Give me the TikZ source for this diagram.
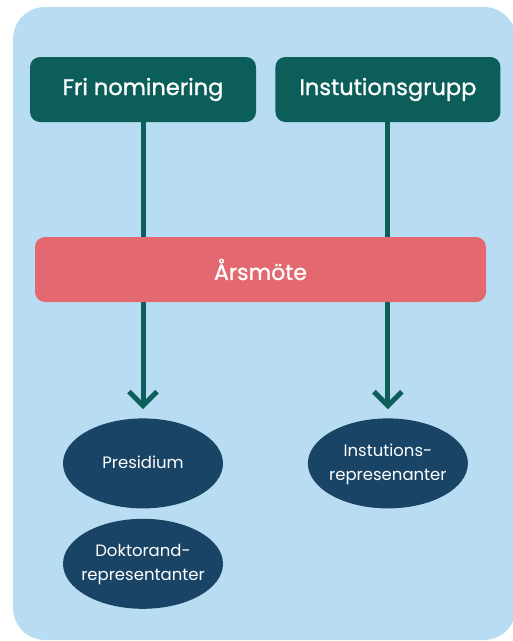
\documentclass[tikz,border=0pt]{standalone}
\usepackage{fontspec}
\setmainfont{Poppins}
\newfontfamily\boxfont{Poppins}[FakeBold=1.2]
\usetikzlibrary{shapes.geometric}
\usetikzlibrary{arrows.meta}
\usetikzlibrary{positioning}
\definecolor{bgblue}{HTML}{B8DDF2}
\definecolor{darkteal}{HTML}{0B5E59}
\definecolor{meetred}{HTML}{E4686F}
\definecolor{navy}{HTML}{1A4465}
\pgfdeclarelayer{bg}
\pgfdeclarelayer{lines}
\pgfsetlayers{bg,lines,main}
\tikzstyle{topblock} = [rectangle, rounded corners=10pt, minimum width=226pt, minimum height=65pt,
text centered, fill=darkteal, text=white, font=\boxfont\fontsize{22.5}{26}\selectfont]
\tikzstyle{meetblock} = [rectangle, rounded corners=10pt, minimum width=451pt, minimum height=65pt,
text centered, fill=meetred, text=white, font=\boxfont\fontsize{22}{26}\selectfont]
\tikzstyle{ovalblock} = [ellipse, minimum width=160pt, minimum height=90pt, inner sep=0pt,
fill=navy, text=white, font=\fontsize{16.5}{24}\selectfont]
\tikzstyle{arrow} = [line width=5pt, darkteal, shorten >=9pt,
-{Straight Barb[length=14pt,width=28pt]}]
\newcommand{\ovaltext}[1]{\makebox[0pt]{\begin{tabular}{@{}c@{}}#1\end{tabular}}}

\begin{document}
\begin{tikzpicture}[x=1pt, y=1pt, node distance=19pt]
  \useasboundingbox (0,0) rectangle (513,-641);
  \clip (0,0) rectangle (513,-641);
  \begin{pgfonlayer}{bg}
    \fill [bgblue, rounded corners=32pt] (13,-7) rectangle (516,-640);
  \end{pgfonlayer}
  \node (fri) [topblock] at (143,-89.5) {Fri nominering};
  \node (inst) [topblock, right=of fri, minimum width=225pt] {Instutionsgrupp};
  \node (arsmote) [meetblock] at (260.5,-269.5) {Årsmöte};
  \node (presidium) [ovalblock, below=296pt of fri] {\ovaltext{Presidium}};
  \node (doktorand) [ovalblock, below=10pt of presidium] {\ovaltext{Doktorand-\\representanter}};
  \node (instrep) [ovalblock, below=296pt of inst] {\ovaltext{Instutions-\\represenanter}};
  \begin{pgfonlayer}{lines}
    \draw [arrow] (fri) -- (presidium);
    \draw [arrow] (inst) -- (instrep);
  \end{pgfonlayer}
\end{tikzpicture}
\end{document}
